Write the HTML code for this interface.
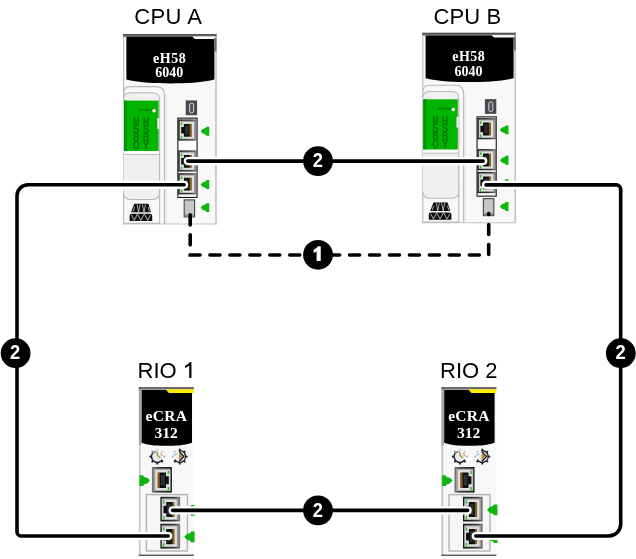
<!DOCTYPE html>
<html><head><meta charset="utf-8">
<style>
html,body{margin:0;padding:0;background:#fff;}
body{width:636px;height:559px;overflow:hidden;font-family:"Liberation Sans",sans-serif;}
svg{display:block;}
.lbl{font-family:"Liberation Sans",sans-serif;font-size:22px;fill:#000;}
.mtx{font-family:"Liberation Serif",serif;font-weight:bold;fill:#fff;text-anchor:middle;}
.num{font-family:"Liberation Sans",sans-serif;font-weight:bold;font-size:20.6px;fill:#fff;text-anchor:middle;}
.vt{font-family:"Liberation Sans",sans-serif;font-size:10.8px;fill:#007200;stroke:#007200;stroke-width:0.4;text-anchor:middle;}
</style></head>
<body>
<svg width="636" height="559" viewBox="0 0 636 559">
<defs>
<filter id="bl2" x="-5%" y="-5%" width="110%" height="110%"><feGaussianBlur stdDeviation="0.3"/></filter>
<filter id="bl" x="-5%" y="-5%" width="110%" height="110%"><feGaussianBlur stdDeviation="0.45"/></filter>
<linearGradient id="topbar" x1="0" y1="0" x2="0" y2="1"><stop offset="0" stop-color="#444"/><stop offset="1" stop-color="#8a8a8a"/></linearGradient>

<!-- RJ45 port, 18.8 x 21.2, origin top-left, tan on right, LEDs on left -->
<linearGradient id="pfr" x1="0" y1="0" x2="1" y2="0"><stop offset="0" stop-color="#161616"/><stop offset="0.7" stop-color="#3a3a3a"/><stop offset="1" stop-color="#7a7a7a"/></linearGradient>
<g id="port">
  <rect x="0" y="0" width="18.8" height="21.2" fill="url(#pfr)"/>
  <rect x="1.2" y="1.3" width="16.2" height="18.6" fill="#9c9c9c"/>
  <rect x="1.7" y="2.4" width="14" height="16.9" fill="#e0e0e0"/>
  <rect x="11.2" y="4.5" width="2.3" height="12.9" fill="#8a5c14"/>
  <path d="M5.6,4.5 H11.4 V17.4 H5.6 V14.2 H2.9 V7.7 H5.6 Z" fill="#0c0c0c"/>
  <rect x="6.6" y="6.4" width="3.6" height="9" fill="#2a3036"/>
  <rect x="2.5" y="3.1" width="1.5" height="2.8" fill="#2cc42c"/>
  <rect x="2.5" y="16.5" width="1.5" height="2.8" fill="#2cc42c"/>
</g>
<!-- left-pointing green arrow: tip at (0,0) -->
<path id="arrL" d="M0,0 L2.2,-2.3 L5,-3.1 L5.7,-4.4 H8.7 V4.5 H5.7 L5,3.2 L2.2,2.4 Z" fill="#0cb60c"/>

<!-- CPU module drawn in CPU A absolute coordinates -->
<g id="cpu">
  <rect x="123" y="34" width="93.6" height="190.4" fill="#f8f8f8"/>
  <rect x="123" y="34" width="1.1" height="190.4" fill="#bdbdbd"/>
  <rect x="215.2" y="34" width="1.6" height="190.4" fill="#c2c2c2"/>
  <rect x="123" y="223.4" width="93.6" height="1.2" fill="#cccccc"/>
  <rect x="123" y="34" width="93.6" height="3" fill="url(#topbar)"/>
  <rect x="193" y="36.4" width="22" height="3" fill="#fafafa"/>
  <path d="M126.4,36.8 H192.4 L195,38.9 H214.4 V79.6 C200,83 185,83.4 170.4,83.4 C156,83.4 141,83 126.4,79.6 Z" fill="#000"/>
  <rect x="214.3" y="38" width="2.2" height="13.5" fill="#6a6a6a"/>
  <text class="mtx" x="169.6" y="62.6" font-size="14" letter-spacing="0.5" fill="#eee">eH58</text>
  <text class="mtx" x="169.3" y="77.4" font-size="14" fill="#eee">6040</text>
  <!-- left slot -->
  <path d="M123.6,93 Q123.8,86.6 130,86.6 H156 Q164.5,86.6 164.5,95.2 V224" fill="none" stroke="#b4b4b4" stroke-width="1.1"/>
  <path d="M166.1,96 V224" fill="none" stroke="#e2e2e2" stroke-width="0.9"/>
  <path d="M159.6,190 V223.4 H124" fill="none" stroke="#bcbcbc" stroke-width="1.1"/>
  <path d="M123.6,99.4 Q123.8,92.8 130.4,92.8 H152.6 Q159.6,92.8 159.6,99.8 V192.5 Q159.6,199.5 152.6,199.5 H130.5 Q124,199.5 123.6,193" fill="#f0f0f0" stroke="#b8b8b8" stroke-width="1.1"/>
  <rect x="124" y="100.6" width="34.6" height="50.4" fill="#03b403"/>
  <rect x="124" y="100.6" width="3" height="50.4" fill="#009800"/>
  <rect x="124" y="151" width="35" height="3" fill="#fdfdfd"/>
  <rect x="124" y="154" width="35" height="1" fill="#c0c0c0"/>
  <rect x="157.3" y="118.2" width="2" height="10.6" fill="#f4f4f4"/>
  <rect x="138.2" y="109.2" width="14" height="1.3" fill="#007a00"/>
  <circle cx="154.1" cy="110.8" r="1.8" fill="#fff"/>
  <g class="vt">
    <text x="136.3" y="125" textLength="6" lengthAdjust="spacingAndGlyphs">M</text>
    <text x="136.3" y="133.05" textLength="6" lengthAdjust="spacingAndGlyphs">5</text>
    <text x="136.3" y="141.1" textLength="6" lengthAdjust="spacingAndGlyphs">8</text>
    <text x="136.3" y="149.15" textLength="6" lengthAdjust="spacingAndGlyphs">O</text>
    <text x="145.9" y="125" textLength="6" lengthAdjust="spacingAndGlyphs">H</text>
    <text x="145.9" y="133.05" textLength="6" lengthAdjust="spacingAndGlyphs">S</text>
    <text x="145.9" y="141.1" textLength="6" lengthAdjust="spacingAndGlyphs">B</text>
    <text x="145.9" y="149.15" textLength="6" lengthAdjust="spacingAndGlyphs">Y</text>
  </g>
  <!-- icon bottom-left -->
  <g fill="#0a0a0a">
    <path d="M134.3,203.8 H148.4 L151,212.3 H131 Z"/>
    <path d="M129.6,221.1 V216 Q129.6,213.7 131.8,213.7 H150 Q152.2,213.7 152.2,216 V221.1 Z"/>
  </g>
  <g stroke="#e6e6e6" stroke-width="0.75" fill="none">
    <path d="M137,204.4 L138.6,212 L140.1,204.4 M142.3,204.4 L144,212 L145.5,204.4 M134.6,207 L133,211.6 M148.2,207 L149.6,211.6"/>
    <path d="M131.4,215 L134.3,220.4 L137.4,213.9 L140.9,220.4 L144.3,213.9 L147.8,220.4 L150.6,215"/>
  </g>
  <!-- "0" icon -->
  <rect x="185.7" y="100.4" width="11.4" height="14.8" fill="#4a4a4a"/>
  <rect x="189.6" y="103.1" width="4" height="9.8" rx="1.9" fill="#4a5464" stroke="#d4d4d4" stroke-width="1"/>
  <!-- port block -->
  <rect x="177.85" y="118.15" width="19.2" height="79.3" fill="#fcfcfc" stroke="#141414" stroke-width="1.1"/>
  <use href="#port" x="178.3" y="119.4"/>
  <use href="#port" x="178.3" y="150.4"/>
  <use href="#port" x="178.3" y="173.2"/>
  <!-- grey connector -->
  <rect x="184.2" y="199.9" width="10.4" height="17" fill="#c6c6c6" stroke="#505050" stroke-width="1.2"/>
  <rect x="185" y="214.4" width="8.8" height="2.2" fill="#8c8c8c"/>
</g>

<!-- right-pointing green arrow: tip at (0,0) -->
<path id="arrR" d="M0,0 L-2.2,-2.3 L-5,-3.1 L-5.7,-4.4 H-8.7 V4.5 H-5.7 L-5,3.2 L-2.2,2.4 Z" fill="#0cb60c"/>
<g id="tooth"><rect x="-0.85" y="-7.3" width="1.7" height="1.7" fill="#1a1a1a"/></g>
<g id="gear1">
  <circle r="4.8" fill="#e6eef4"/>
  <path d="M4.68,2.7 A5.4,5.4 0 1 1 -4.14,-3.47" fill="none" stroke="#222" stroke-width="1.35"/>
  <use href="#tooth" transform="rotate(135)"/><use href="#tooth" transform="rotate(180)"/>
  <use href="#tooth" transform="rotate(225)"/><use href="#tooth" transform="rotate(270)"/>
  <use href="#tooth" transform="rotate(315)" opacity="0.5"/><use href="#tooth" transform="rotate(90)" opacity="0.35"/>
  <use href="#tooth" transform="rotate(45)" opacity="0.25"/><use href="#tooth" transform="rotate(0)" opacity="0.25"/>
  <path d="M-0.4,-4.6 L0.2,-1.4 L2.8,1.6" fill="none" stroke="#c48a28" stroke-width="1.3"/>
  <path d="M3.2,-3.4 L4.6,-0.6" fill="none" stroke="#d8a24a" stroke-width="1.1"/>
  <path d="M-3.4,-3.6 L-1.6,-5" fill="none" stroke="#3a5a88" stroke-width="1.1"/>
</g>
<g id="gear2">
  <circle r="4.8" fill="#eef2f4"/>
  <path d="M-0.94,-5.32 A5.4,5.4 0 1 1 -4.68,2.7" fill="none" stroke="#222" stroke-width="1.35"/>
  <use href="#tooth" transform="rotate(0)"/><use href="#tooth" transform="rotate(45)"/>
  <use href="#tooth" transform="rotate(90)"/><use href="#tooth" transform="rotate(135)"/>
  <use href="#tooth" transform="rotate(180)"/><use href="#tooth" transform="rotate(225)"/>
  <use href="#tooth" transform="rotate(270)" opacity="0.3"/><use href="#tooth" transform="rotate(315)" opacity="0.3"/>
  <path d="M-0.6,-3.4 L2.6,0 L-0.6,3.4 Z" fill="#c8801c"/>
  <path d="M-0.4,-4.6 L3.8,0 L-0.4,4.6" fill="none" stroke="#141414" stroke-width="1.3"/>
  <path d="M-5.6,-1.2 L-2.6,-2.6" fill="none" stroke="#8ab4d8" stroke-width="1"/>
</g>
<!-- RIO module drawn in RIO 1 absolute coordinates -->
<g id="rio">
  <rect x="138.8" y="387.2" width="55" height="168.8" fill="#f8f8f8"/>
  <rect x="138.8" y="387.2" width="2.6" height="58" fill="#a8a8a8"/>
  <rect x="138.8" y="445" width="1.8" height="111" fill="#c6c6c6"/>
  <rect x="138.8" y="387.2" width="55" height="2.5" fill="url(#topbar)"/>
  <rect x="138.8" y="554.6" width="55" height="1.4" fill="#555"/>
  <path d="M141.6,390 H192 V442.8 C183,445.8 175,445.8 166.8,445.8 C158,445.8 150,445.8 141.6,442.8 Z" fill="#000"/>
  <path d="M165.6,389.2 H193.8 V392.9 H168.8 Z" fill="#ffee00"/>
  <text class="mtx" x="166.4" y="420.9" font-size="15.5" letter-spacing="0.3" fill="#eee">eCRA</text>
  <text class="mtx" x="166" y="438.2" font-size="15.5" fill="#eee">312</text>
  <use href="#gear1" transform="translate(157.3,456.6) scale(1.08)"/>
  <use href="#gear2" transform="translate(179.7,456.6) scale(1.08)"/>
  <!-- service port (mirrored) -->
  <g transform="translate(171.9,467) scale(-1.064,1.208)"><use href="#port"/></g>
  <!-- port group -->
  <rect x="146.4" y="494.6" width="41" height="56.4" fill="#f6f6f6" stroke="#b4b4b4" stroke-width="1.4"/>
  <g transform="translate(160.4,496.8) scale(1.048,1.165)"><use href="#port"/></g>
  <g transform="translate(160.4,523.7) scale(1.048,1.175)"><use href="#port"/></g>
</g>
</defs>

<rect width="636" height="559" fill="#fff"/>

<g filter="url(#bl2)">
<text class="lbl" x="134.2" y="24.2" letter-spacing="0.4">CPU A</text>
<text class="lbl" x="433.6" y="23.8" letter-spacing="0.1">CPU B</text>
<text class="lbl" x="137.6" y="378">RIO</text>
<path d="M191.45,378 H189.25 V365.5 Q187.4,367.1 185,368.1 V365.9 Q188.4,364.3 190,362.1 H191.45 Z" fill="#000"/>
<text class="lbl" x="440" y="378">RIO 2</text>
</g>

<g filter="url(#bl)"><use href="#cpu"/>
  <use href="#arrL" x="200.6" y="131.2"/>
  <use href="#arrL" x="200.6" y="184.5"/>
  <use href="#arrL" x="200.6" y="207.6"/>
</g>
<g filter="url(#bl)"><use href="#cpu" transform="translate(299.2,-1.3)"/>
  <use href="#arrL" x="499.8" y="129.8"/>
  <use href="#arrL" x="499.8" y="160.2"/>
  <use href="#arrL" x="499.8" y="183.6"/>
  <use href="#arrL" x="499.8" y="206.4"/>
</g>

<g filter="url(#bl)"><use href="#rio"/>
  <use href="#arrR" transform="translate(149.9,480.6) scale(1.2)"/>
  <use href="#arrL" transform="translate(184.2,510.4) scale(1.2)"/>
  <use href="#arrL" transform="translate(184.2,536.8) scale(1.2)"/>
</g>
<g filter="url(#bl)"><use href="#rio" transform="translate(302.6,0)"/>
  <use href="#arrR" transform="translate(452.5,480.6) scale(1.2)"/>
  <use href="#arrL" transform="translate(487,509.8) scale(1.2)"/>
  <use href="#arrL" transform="translate(487,537.5) scale(1.2)"/>
</g>

<!-- dashed link -->
<path d="M190.2,214.9 V255 H488.7 V213.6" fill="none" stroke="#000" stroke-width="3.6" stroke-linecap="round" stroke-dasharray="10 9.95"/>

<!-- cables: white halo + black -->
<g fill="none" stroke-linecap="round" stroke-linejoin="round">
  <g stroke="#fff" stroke-width="8.2">
    <path id="c1" d="M187.8,161.1 H483.2"/>
    <path id="c2" d="M184.1,184.8 H28 A11,11 0 0 0 17,195.8 V532 A4,4 0 0 0 21,536 H168.2"/>
    <path id="c3" d="M486,184.9 H616.2 A4.5,4.5 0 0 1 620.7,189.4 V524 A12,12 0 0 1 608.7,536 H475.8"/>
    <path id="c4" d="M172.7,510.4 H467.6"/>
  </g>
  <g stroke="#000" stroke-width="3.6">
    <use href="#c1"/><use href="#c2"/><use href="#c3"/><use href="#c4"/>
  </g>
</g>

<!-- badges -->
<g filter="url(#bl2)">
  <circle cx="318" cy="161.1" r="14.9"/><text class="num" transform="translate(317.9,167.3) scale(0.89,1)">2</text>
  <circle cx="318" cy="254.8" r="14.9"/><path d="M320.75,260.9 H316.6 V251.2 Q315.3,252.3 313.6,253 V249.8 Q316.7,248.5 317.9,246.2 H320.75 Z" fill="#fff"/>
  <circle cx="318" cy="510.4" r="14.9"/><text class="num" transform="translate(317.9,516.6) scale(0.89,1)">2</text>
  <circle cx="15.6" cy="353.2" r="14.9"/><text class="num" transform="translate(15.2,359.4) scale(0.89,1)">2</text>
  <circle cx="620.8" cy="353.2" r="14.9"/><text class="num" transform="translate(620.5,359.4) scale(0.89,1)">2</text>
</g>

</svg>
</body></html>
